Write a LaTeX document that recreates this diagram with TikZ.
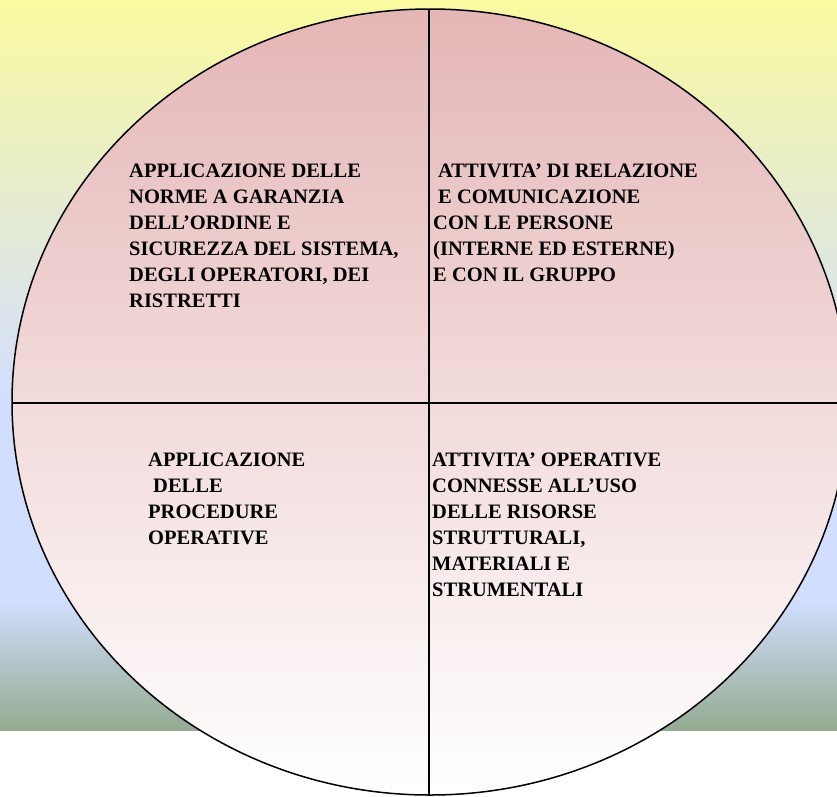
\documentclass[tikz,border=0pt]{standalone}
\usepackage{fontspec}
\setmainfont{Liberation Serif}

\definecolor{bgyellow}{RGB}{250,250,160}
\definecolor{bgblue}{RGB}{210,222,255}
\definecolor{bggreen}{RGB}{148,170,144}
\definecolor{rosetop}{RGB}{229,182,182}

\tikzset{
    quadtext/.style={anchor=north west, inner sep=0pt, align=left,
        font=\fontsize{20.5}{26}\selectfont\bfseries}
}

\begin{document}
\begin{tikzpicture}[x=1pt,y=-1pt]
    \useasboundingbox (0,0) rectangle (837,796);
    \clip (0,0) rectangle (837,796);

    % background
    \shade[top color=bgyellow, bottom color=bgblue] (0,0) rectangle (837,400);
    \fill[bgblue] (0,399.5) rectangle (837,600.5);
    \shade[top color=bgblue, bottom color=bggreen] (0,600) rectangle (837,730);

    % the circle and its quarters
    \coordinate (centre) at (430,402);
    \coordinate (top) at (429,9);
    \coordinate (bottom) at (429,795);
    \coordinate (left) at (12,403);
    \coordinate (right) at (848,403);
    \shade[top color=rosetop, bottom color=white, draw=black, line width=1.5pt]
        (centre) ellipse [x radius=418pt, y radius=393pt];
    \draw[line width=1.5pt] (top) -- (bottom);
    \draw[line width=1.5pt] (left) -- (right);

    \node[quadtext] (norme) at (129,164)
        {APPLICAZIONE DELLE\\NORME A GARANZIA\\DELL’ORDINE E\\SICUREZZA DEL SISTEMA,\\DEGLI OPERATORI, DEI\\RISTRETTI};
    \node[quadtext] (relazione) at (433,164)
        {\hspace*{5pt}ATTIVITA’ DI RELAZIONE\\\hspace*{5pt}E COMUNICAZIONE\\CON LE PERSONE\\(INTERNE ED ESTERNE)\\E CON IL GRUPPO};
    \node[quadtext] (procedure) at (148,453)
        {APPLICAZIONE\\\hspace*{5pt}DELLE\\PROCEDURE\\OPERATIVE};
    \node[quadtext] (risorse) at (432,453)
        {ATTIVITA’ OPERATIVE\\CONNESSE ALL’USO\\DELLE RISORSE\\STRUTTURALI,\\MATERIALI E\\STRUMENTALI};
\end{tikzpicture}
\end{document}
